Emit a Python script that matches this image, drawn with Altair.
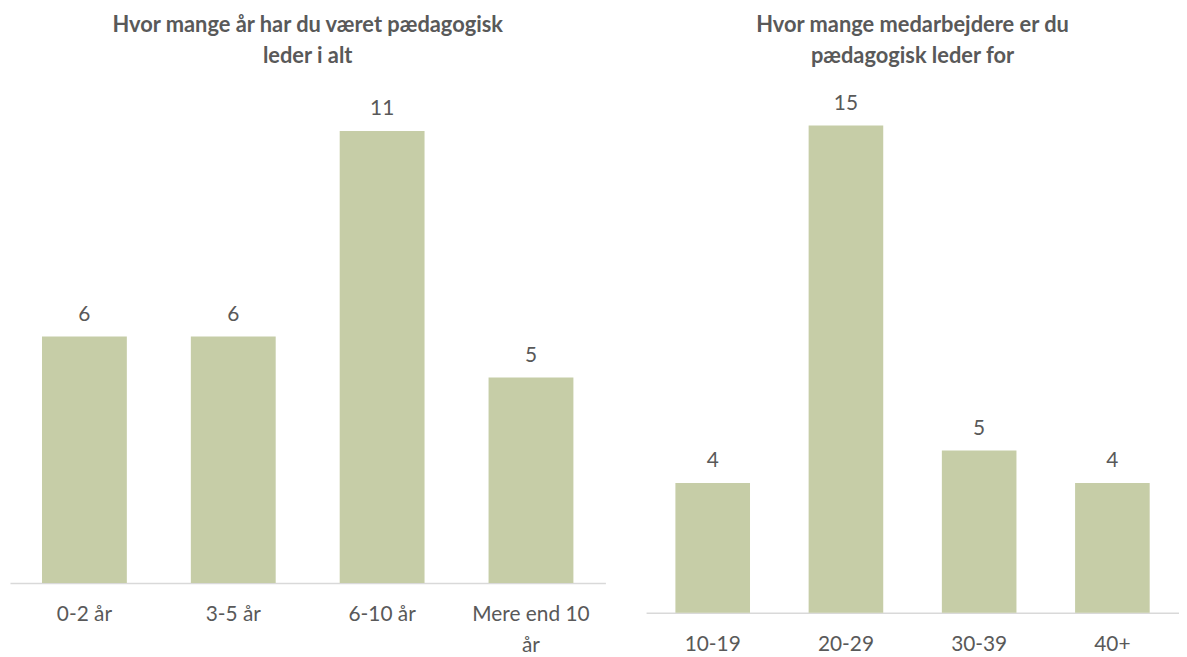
import altair as alt
import pandas as pd

left_cats = ["0-2 år", "3-5 år", "6-10 år", "Mere end 10 år"]
left_vals = [6, 6, 11, 5]
left_title = ["Hvor mange år har du været pædagogisk", "leder i alt"]

right_cats = ["10-19", "20-29", "30-39", "40+"]
right_vals = [4, 15, 5, 4]
right_title = ["Hvor mange medarbejdere er du", "pædagogisk leder for"]

BAR = "#c6cda7"
GREY = "#595959"
FONT = "Lato"


def panel(cats, vals, title, width, height, ymax, pad_inner):
    df = pd.DataFrame({"cat": cats, "val": vals})
    x = alt.X(
        "cat:N",
        sort=cats,
        title=None,
        scale=alt.Scale(paddingInner=pad_inner, paddingOuter=pad_inner / 2),
        axis=alt.Axis(
            labelAngle=0,
            ticks=False,
            domainColor="#d9d9d9",
            domainWidth=1.5,
            labelColor=GREY,
            labelFont=FONT,
            labelFontSize=21,
            labelPadding=21,
            labelLineHeight=31,
            labelLimit=200,
            labelExpr="datum.label == 'Mere end 10 år' ? ['Mere end 10', 'år'] : datum.label",
        ),
    )
    y = alt.Y("val:Q", axis=None, scale=alt.Scale(domain=[0, ymax], nice=False))
    base = alt.Chart(df)
    bars = base.mark_bar(color=BAR).encode(x=x, y=y)
    text = base.mark_text(
        baseline="bottom", dy=-12, color=GREY, font=FONT, fontSize=21
    ).encode(x=x, y=y, text="val:Q")
    return (bars + text).properties(
        width=width,
        height=height,
        title=alt.TitleParams(
            text=title,
            font=FONT,
            fontSize=22,
            fontWeight="bold",
            color=GREY,
            lineHeight=31,
            offset=22,
            anchor="middle",
        ),
    )


left = panel(left_cats, left_vals, left_title, 600, 497, 12, 0.43)
right = panel(right_cats, right_vals, right_title, 537, 527, 16.1, 0.44)

chart = (
    alt.hconcat(left, right, spacing=41)
    .configure_view(stroke=None)
    .properties(padding={"left": 2, "top": 4, "right": 0, "bottom": 0})
)

chart.save("out.html", embed_options={"renderer": "svg", "actions": False})
